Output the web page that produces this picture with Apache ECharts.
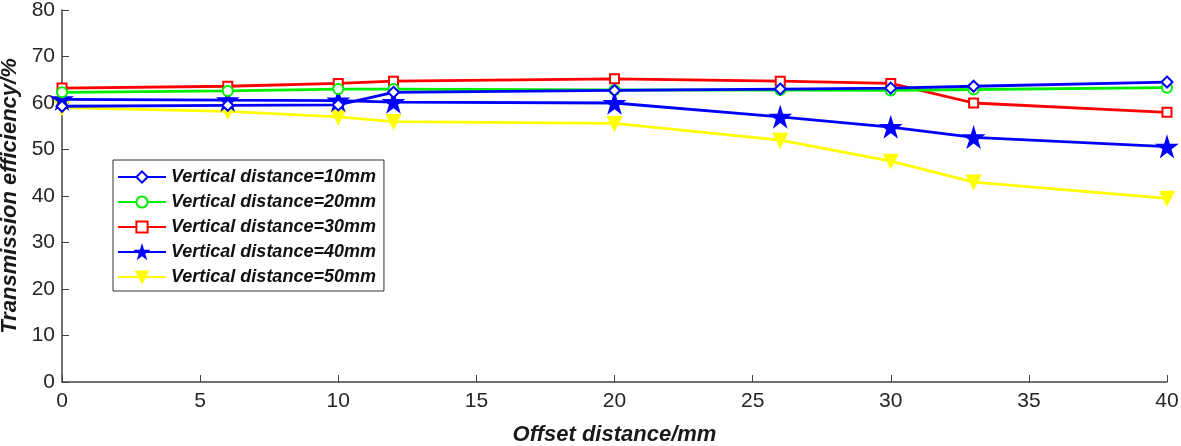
<!DOCTYPE html>
<html>
<head>
<meta charset="utf-8">
<script src="https://cdn.jsdelivr.net/npm/echarts@6/dist/echarts.min.js"></script>
<style>html,body{margin:0;padding:0;background:#fff}#c{width:1181px;height:446px}</style>
</head>
<body>
<div id="c"></div>
<script>
const offsets = [0, 6, 10, 12, 20, 26, 30, 33, 40];
const seriesNames = ['Vertical distance=10mm','Vertical distance=20mm','Vertical distance=30mm','Vertical distance=40mm','Vertical distance=50mm'];
const d10 = [59.3, 59.5, 59.6, 62.3, 62.7, 63.0, 63.2, 63.6, 64.5];
const d20 = [62.3, 62.6, 63.0, 63.0, 62.8, 62.8, 62.7, 62.9, 63.3];
const d30 = [63.2, 63.6, 64.2, 64.7, 65.2, 64.7, 64.2, 60.0, 58.0];
const d40 = [60.8, 60.6, 60.5, 60.2, 60.0, 57.0, 54.8, 52.6, 50.6];
const d50 = [59.0, 58.2, 57.0, 56.0, 55.6, 52.0, 47.5, 43.0, 39.5];
const xTicks = [0, 5, 10, 15, 20, 25, 30, 35, 40];
const yTicks = [0, 10, 20, 30, 40, 50, 60, 70, 80];

const starPath = 'path://M50,0 L61,35 L98,35 L68,57 L79,91 L50,70 L21,91 L32,57 L2,35 L39,35 Z';
const pairs = arr => offsets.map((x, i) => [x, arr[i]]);
const lab = {fontFamily: 'Arial, Liberation Sans', fontSize: 21, color: '#262626'};
const nameStyle = {fontFamily: 'Arial, Liberation Sans', fontSize: 22, fontWeight: 'bold', fontStyle: 'italic', color: '#1a1a1a'};

const defs = [
  {data: d10, color: '#0000ff', symbol: 'emptyDiamond', size: 11},
  {data: d20, color: '#00ee00', symbol: 'emptyCircle', size: 10},
  {data: d30, color: '#ff0000', symbol: 'emptyRect', size: 9},
  {data: d40, color: '#0000ff', symbol: starPath, size: 18},
  {data: d50, color: '#ffff00', symbol: 'triangle', size: 13, rotate: 180}
];

const chart = echarts.init(document.getElementById('c'), null, {renderer: 'canvas'});
chart.setOption({
  animation: false,
  backgroundColor: '#fff',
  grid: {left: 62, right: 14, top: 10, bottom: 64, containLabel: false, outerBoundsMode: 'none'},
  legend: {
    orient: 'vertical', left: 113, top: 160,
    data: seriesNames,
    itemWidth: 48, itemHeight: 14, itemGap: 7,
    padding: [8, 8, 5, 4],
    borderColor: '#333', borderWidth: 1, backgroundColor: '#fff',
    textStyle: {fontFamily: 'Arial, Liberation Sans', fontSize: 18, fontWeight: 'bold', fontStyle: 'italic', color: '#111'}
  },
  xAxis: {
    type: 'value', min: 0, max: 40, interval: 5,
    name: 'Offset distance/mm', nameLocation: 'middle', nameGap: 42, nameTextStyle: nameStyle,
    axisLine: {lineStyle: {color: '#444', width: 1.5}},
    axisTick: {inside: true, length: 7, lineStyle: {color: '#444'}},
    axisLabel: Object.assign({margin: 9, formatter: v => xTicks.includes(v) ? String(v) : ''}, lab),
    splitLine: {show: false}
  },
  yAxis: {
    type: 'value', min: 0, max: 80, interval: 10,
    name: 'Transmission efficiency/%', nameLocation: 'middle', nameGap: 33, nameTextStyle: nameStyle,
    axisLine: {show: true, lineStyle: {color: '#444', width: 1.5}},
    axisTick: {show: true, inside: true, length: 7, lineStyle: {color: '#444'}},
    axisLabel: Object.assign({margin: 7, formatter: v => yTicks.includes(v) ? String(v) : ''}, lab),
    splitLine: {show: false}
  },
  series: defs.map((d, i) => ({
    name: seriesNames[i],
    type: 'line',
    data: pairs(d.data),
    symbol: d.symbol,
    symbolSize: d.size,
    symbolRotate: d.rotate || 0,
    showAllSymbol: true,
    lineStyle: {color: d.color, width: 2.8},
    itemStyle: {color: d.color, borderColor: d.color, borderWidth: 2},
    z: 10 - i
  }))
});
</script>
</body>
</html>
